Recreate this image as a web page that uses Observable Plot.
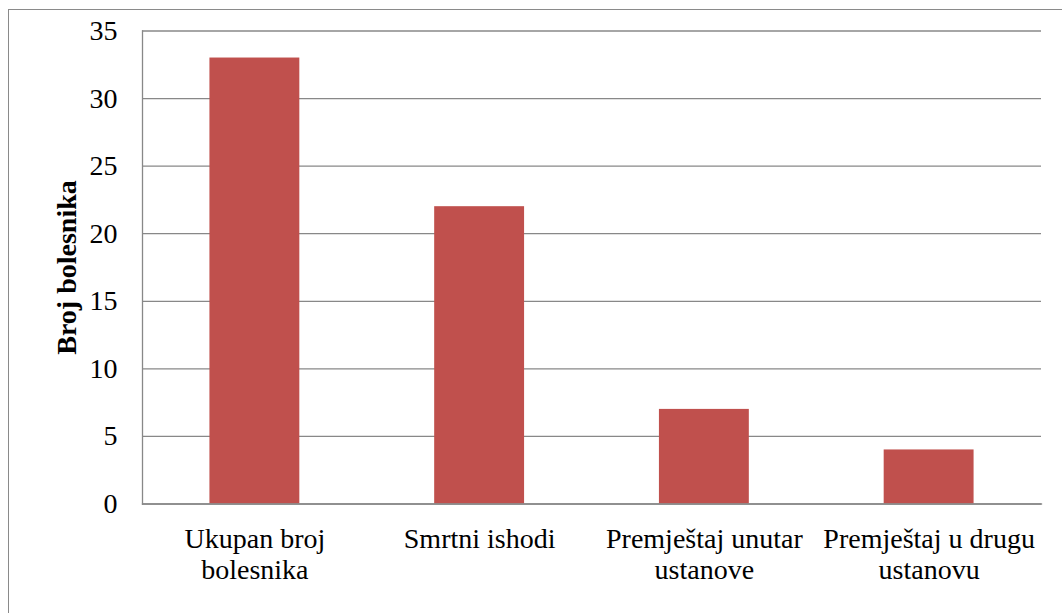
<!DOCTYPE html>
<html>
<head>
<meta charset="utf-8">
<script src="https://cdn.jsdelivr.net/npm/d3@7"></script>
<script src="https://cdn.jsdelivr.net/npm/@observablehq/plot@0.6"></script>
<style>
  html, body { margin: 0; padding: 0; background: #fff; }
  #wrap { position: relative; width: 1062px; height: 613px; overflow: hidden; }
  #border { position: absolute; left: 8px; top: 9px; width: 1200px; height: 800px;
            border-left: 1.5px solid #8a8a8a; border-top: 1.5px solid #8a8a8a; }
  #chart { position: absolute; left: 0; top: 0; }
  #chart g[aria-label="y-axis label"] text { font-weight: bold; }
</style>
</head>
<body>
<div id="wrap"><div id="border"></div><div id="chart"></div></div>
<script>
const categories = ["Ukupan broj bolesnika", "Smrtni ishodi", "Premještaj unutar ustanove", "Premještaj u drugu ustanovu"];
const tickLabels = ["Ukupan broj\nbolesnika", "Smrtni ishodi", "Premještaj unutar\nustanove", "Premještaj u drugu\nustanovu"];
const values = [33, 22, 7, 4];
const yTicks = [0, 5, 10, 15, 20, 25, 30, 35];
const yTitle = "Broj bolesnika";

const data = categories.map((c, i) => ({category: c, value: values[i]}));
const labelOf = new Map(categories.map((c, i) => [c, tickLabels[i]]));

const chart = Plot.plot({
  width: 1062,
  height: 613,
  marginLeft: 142,
  marginRight: 21,
  marginTop: 30.5,
  marginBottom: 109.5,
  style: {fontFamily: "'Liberation Serif', serif", fontSize: "28px", color: "#000", background: "transparent"},
  x: {domain: categories, paddingInner: 0.6, paddingOuter: 0.3, round: false, label: null},
  y: {domain: [0, 35], label: null},
  marks: [
    Plot.gridY(yTicks, {stroke: "#888", strokeOpacity: 1, strokeWidth: 1.3}),
    Plot.barY(data, {x: "category", y: "value", fill: "#C0504D"}),
    Plot.frame({anchor: "left", stroke: "#888", strokeWidth: 1.3}),
    Plot.frame({anchor: "bottom", stroke: "#888", strokeWidth: 1.3}),
    Plot.axisY(yTicks, {tickSize: 0, tickPadding: 25, fontSize: 28, label: yTitle, labelAnchor: "center", labelArrow: "none", labelOffset: 86}),
    Plot.axisX({tickSize: 0, tickPadding: 22, fontSize: 28, lineHeight: 1.1, tickFormat: d => labelOf.get(d), label: null})
  ]
});
document.getElementById("chart").appendChild(chart);
</script>
</body>
</html>
